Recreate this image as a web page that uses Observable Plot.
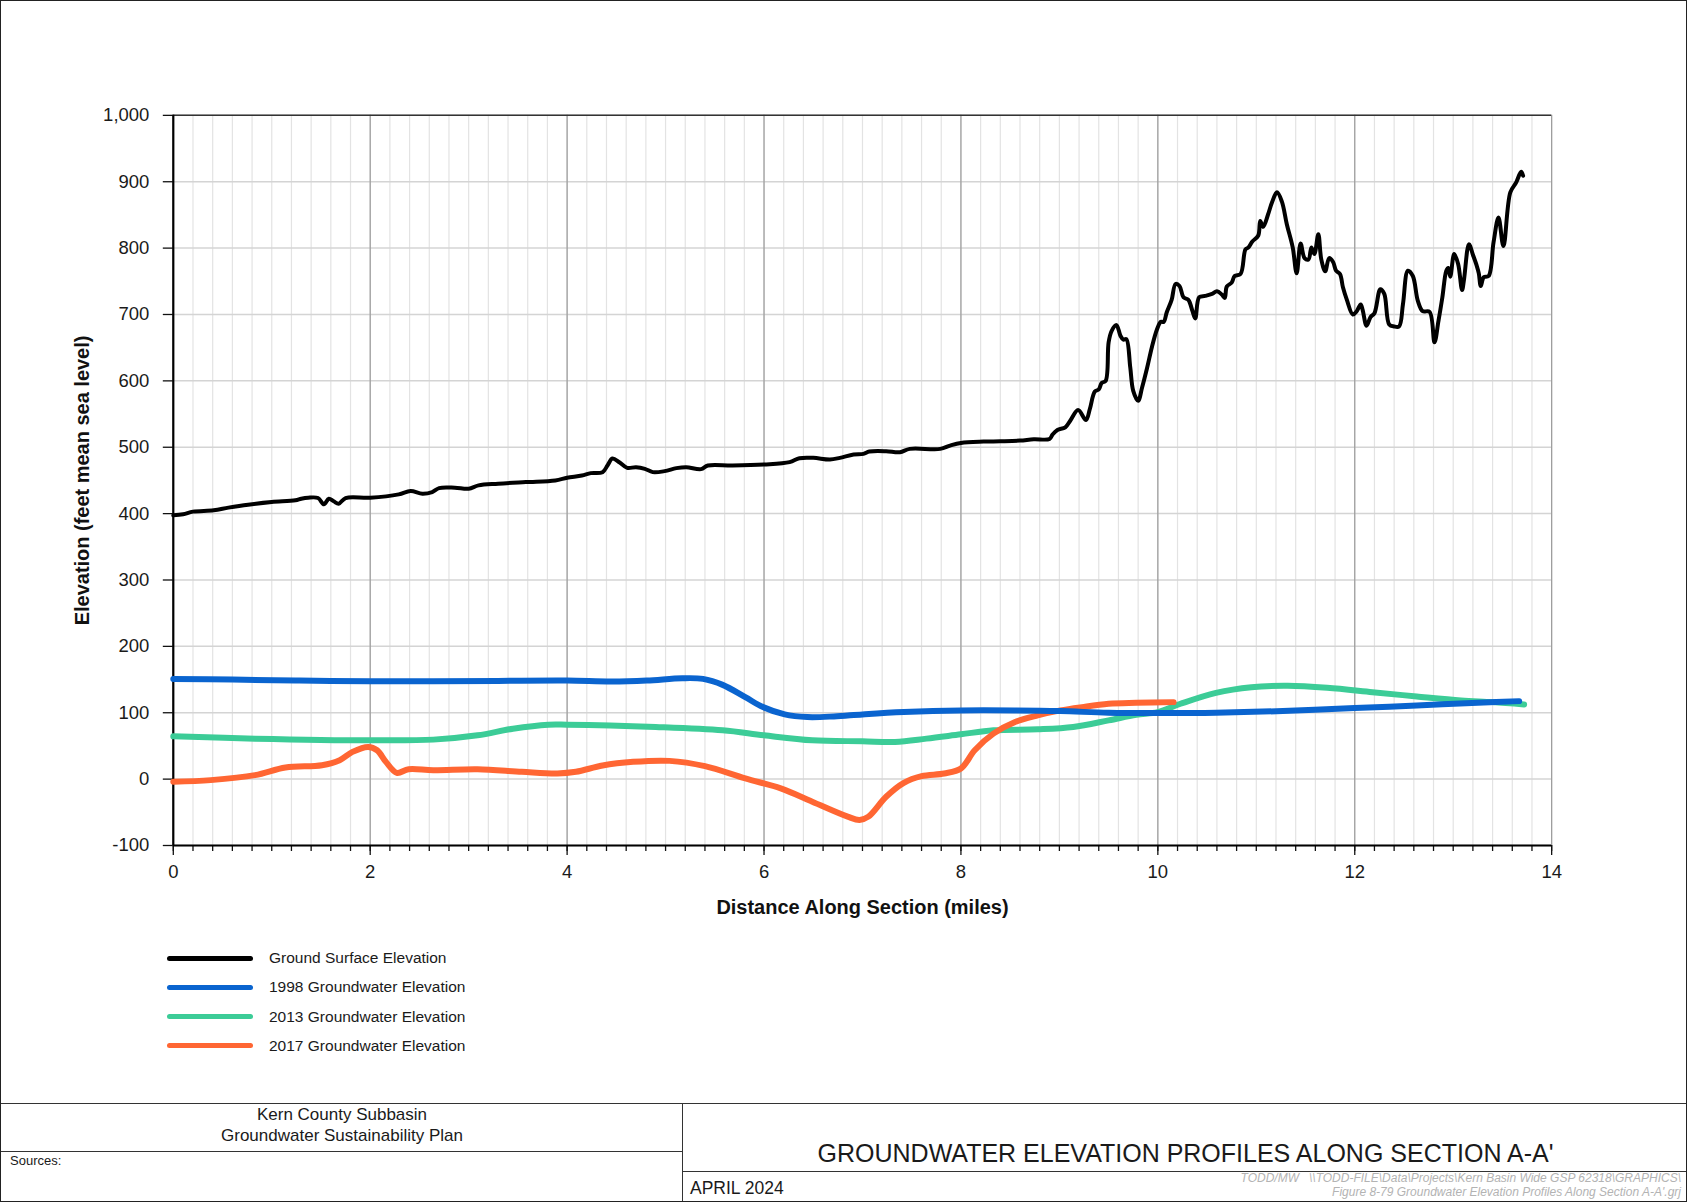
<!DOCTYPE html>
<html>
<head>
<meta charset="utf-8">
<script src="https://cdn.jsdelivr.net/npm/d3@7"></script>
<script src="https://cdn.jsdelivr.net/npm/@observablehq/plot@0.6"></script>
<style>
  html, body { margin: 0; padding: 0; background: #fff; }
  #page { position: relative; width: 1687px; height: 1202px; box-sizing: border-box; border: 1.5px solid #222; overflow: hidden; font-family: "Liberation Sans", Arial, sans-serif; color: #1a1a1a; }
  #chart { position: absolute; left: 0; top: 0; }
  .leg-swatch { position: absolute; left: 166px; width: 86px; height: 5px; border-radius: 3px; }
  .leg-text { position: absolute; left: 268px; font-size: 15.5px; white-space: nowrap; line-height: 18px; }
  .hline { position: absolute; height: 0; border-top: 1.5px solid #333; }
  .vline { position: absolute; width: 0; border-left: 1.5px solid #333; }
  .t { position: absolute; white-space: nowrap; }
</style>
</head>
<body>
<div id="page">
  <div id="chart"></div>
  <div id="legend"></div>
  <div class="hline" style="left:0; width:1687px; top:1102px;"></div>
  <div class="vline" style="left:681px; top:1102px; height:100px;"></div>
  <div class="hline" style="left:0; width:682px; top:1150px;"></div>
  <div class="hline" style="left:682px; width:1005px; top:1170px;"></div>
  <div class="t" style="left:0; width:682px; text-align:center; top:1104px; font-size:17px;">Kern County Subbasin</div>
  <div class="t" style="left:0; width:682px; text-align:center; top:1125px; font-size:17px;">Groundwater Sustainability Plan</div>
  <div class="t" style="left:9px; top:1152px; font-size:13px;">Sources:</div>
  <div class="t" style="left:682px; width:1005px; text-align:center; top:1138px; font-size:25px;">GROUNDWATER ELEVATION PROFILES ALONG SECTION A-A'</div>
  <div class="t" style="left:689px; top:1177px; font-size:17.5px;">APRIL 2024</div>
  <div class="t" style="right:5px; top:1171px; font-size:12px; font-style:italic; color:#b3b3b3; text-align:right; line-height:13.5px;">TODD/MW &nbsp; \\TODD-FILE\Data\Projects\Kern Basin Wide GSP 62318\GRAPHICS\<br>Figure 8-79 Groundwater Elevation Profiles Along Section A-A'.grj</div>
</div>
<script>
// ---------- DATA ----------
const groundX = [0,0.1,0.2,0.41,0.56,0.76,1.0,1.24,1.3,1.37,1.47,1.53,1.58,1.63,1.68,1.75,2.0,2.29,2.41,2.53,2.63,2.7,2.86,3.0,3.1,3.3,3.58,3.88,4.0,4.15,4.24,4.36,4.41,4.46,4.53,4.61,4.70,4.79,4.87,4.99,5.11,5.21,5.36,5.43,5.68,6.0,6.26,6.36,6.50,6.67,6.77,6.91,7.01,7.07,7.24,7.38,7.48,7.79,7.89,8.0,8.23,8.40,8.60,8.74,8.90,8.93,8.98,9.06,9.11,9.19,9.27,9.31,9.36,9.40,9.43,9.47,9.50,9.53,9.58,9.62,9.65,9.68,9.72,9.75,9.80,9.84,9.89,9.94,9.99,10.03,10.06,10.09,10.14,10.18,10.22,10.26,10.31,10.35,10.38,10.42,10.48,10.55,10.60,10.65,10.68,10.70,10.75,10.78,10.84,10.89,10.92,10.96,11.02,11.04,11.07,11.12,11.16,11.21,11.26,11.31,11.37,11.41,11.45,11.49,11.53,11.56,11.59,11.63,11.66,11.70,11.74,11.78,11.81,11.85,11.88,11.92,11.98,12.02,12.06,12.08,12.12,12.16,12.20,12.26,12.30,12.35,12.40,12.45,12.49,12.54,12.59,12.64,12.69,12.76,12.81,12.85,12.89,12.93,12.95,12.97,13.01,13.05,13.09,13.11,13.16,13.20,13.24,13.26,13.28,13.31,13.36,13.41,13.46,13.51,13.58,13.64,13.69,13.71];
const groundY = [397.5,399,403,405,409,413.5,417.5,420,422.5,424,423.5,414,422.5,418.5,415,423.5,424,429,434,430,432.5,438.5,439,437.5,442.5,445,447.5,450,454,457.5,461,462.5,472.5,483,477.5,469,470,467.5,462.5,464,468.5,470,467,472.5,472.5,474,477.5,483.5,484,481.5,484,489,490,493.5,494,492.5,497.5,497.5,502.5,506.5,508.5,509,510,512,512.5,519,526,530,540,556,541,558,584,587,597,600,658,675,684,668,662,663,620,585,570,590,619,651,677,689,689,703,722,746,743,726,722,706,694,726,728,731,735,730,725,742,748,758,761,798,801,810,819,841,832,851,869,884,870,836,801,762,807,785,783,801,791,821,783,765,785,779,766,761,741,722,700,705,715,707,683,696,702,738,731,685,682,682,716,766,758,721,705,704,658,690,726,766,770,757,791,776,737,753,806,790,773,762,743,756,758,809,846,803,884,899,915,909];

const gw1998X = [0,0.6,1.28,2.0,2.64,3.3,4.0,4.45,4.81,5.17,5.38,5.58,5.81,5.99,6.21,6.44,6.71,7.0,7.42,8.0,8.55,9.01,9.5,10.0,10.59,11.27,12.0,12.63,13.31,13.67];
const gw1998Y = [151,150,148.5,147.5,147.5,148,148.5,147,148.5,152,151,142,123.5,108.5,97.5,93.5,94.5,97.5,101,103.5,103.5,102.5,100,99.5,100,102.5,107,111,115.5,117.5];

const gw2013X = [0,0.83,2.0,2.64,3.09,3.45,3.81,4.0,4.9,5.58,6.0,6.49,7.0,7.33,7.65,8.0,8.33,8.78,9.14,9.5,9.78,10.0,10.23,10.59,10.95,11.32,11.72,12.18,12.63,13.08,13.40,13.72];
const gw2013Y = [64.5,61,58.5,59.5,66,76,82,82,78.5,73.5,66,58.5,57,56,61,67.5,73.5,75,78.5,88.5,97,101,113.5,130,138.5,140.5,137.5,131,124.5,118.5,116,112.5];

const gw2017X = [0,0.38,0.83,1.14,1.51,1.69,1.82,1.98,2.07,2.16,2.27,2.39,2.64,3.09,3.54,3.9,4.09,4.36,4.67,5.04,5.4,5.81,6.17,6.49,6.85,6.97,7.06,7.24,7.42,7.60,7.83,8.0,8.14,8.33,8.55,8.78,9.01,9.23,9.5,9.78,10.16];
const gw2017Y = [-4,-1.5,6,17.5,21,28.5,41,48.5,43.5,26,9.5,15,13.5,15,11,8.5,11,20.5,26,27.5,19.5,1,-14,-34,-56.5,-61.5,-56.5,-26.5,-5.5,4.5,8.5,16,43.5,68.5,86,96,103.5,108.5,113.5,115,116];

const seriesNames = ["Ground Surface Elevation","1998 Groundwater Elevation","2013 Groundwater Elevation","2017 Groundwater Elevation"];
const seriesColors = ["#000000","#0a64cf","#3ccc97","#ff6633"];
const xMajorTicks = [0,2,4,6,8,10,12,14];
const yTicks = [-100,0,100,200,300,400,500,600,700,800,900,1000];
const xTitle = "Distance Along Section (miles)";
const yTitle = "Elevation (feet mean sea level)";

// ---------- BUILD ----------
const toRows = (xs, ys) => xs.map((x, i) => ({x, y: ys[i]}));
const ground = toRows(groundX, groundY);
const g1998 = toRows(gw1998X, gw1998Y);
const g2013 = toRows(gw2013X, gw2013Y);
const g2017 = toRows(gw2017X, gw2017Y);
const xMinorTicks = d3.range(0, 71).map(i => +(i * 0.2).toFixed(1));
const fmtY = d => d3.format(",")(d).replace("\u2212", "-");

const chart = Plot.plot({
  width: 1687,
  height: 935,
  marginLeft: 172,
  marginRight: 135,
  marginTop: 114,
  marginBottom: 90,
  x: {domain: [0, 14]},
  y: {domain: [-100, 1000]},
  style: {fontFamily: "'Liberation Sans', Arial, sans-serif", color: "#1a1a1a", background: "transparent", overflow: "visible"},
  marks: [
    Plot.gridX(xMinorTicks, {stroke: "#e3e3e3", strokeOpacity: 1, strokeWidth: 1.2}),
    Plot.gridY(yTicks, {stroke: "#d4d4d4", strokeOpacity: 1, strokeWidth: 1.5}),
    Plot.gridX(xMajorTicks, {stroke: "#9a9a9a", strokeOpacity: 1, strokeWidth: 1.2}),
    Plot.ruleY([1000], {stroke: "#333", strokeWidth: 1.5}),
    Plot.axisX(xMinorTicks, {tickSize: 6, tickFormat: () => "", label: null, strokeWidth: 1.3, stroke: "#111"}),
    Plot.axisX(xMajorTicks, {tickSize: 10, tickPadding: 9, fontSize: 18.5, label: null, strokeWidth: 1.3, stroke: "#111", fill: "#1a1a1a"}),
    Plot.axisY(yTicks, {tickSize: 10, tickPadding: 14, fontSize: 18.5, tickFormat: fmtY, label: null, strokeWidth: 1.3, stroke: "#111", fill: "#1a1a1a"}),
    Plot.ruleX([0], {stroke: "#000", strokeWidth: 2.2}),
    Plot.ruleY([-100], {stroke: "#000", strokeWidth: 2.2}),
    Plot.line(ground, {x: "x", y: "y", stroke: seriesColors[0], strokeWidth: 4, strokeLinejoin: "round", curve: "catmull-rom"}),
    Plot.line(g2013, {x: "x", y: "y", stroke: seriesColors[2], strokeWidth: 6, curve: "catmull-rom"}),
    Plot.line(g2017, {x: "x", y: "y", stroke: seriesColors[3], strokeWidth: 6, curve: "catmull-rom"}),
    Plot.line(g1998, {x: "x", y: "y", stroke: seriesColors[1], strokeWidth: 6, curve: "catmull-rom"}),
    Plot.text([xTitle], {frameAnchor: "bottom", dy: 69, fontSize: 20, fontWeight: "bold", fill: "#111"}),
    Plot.text([yTitle], {frameAnchor: "left", textAnchor: "middle", dx: -91, rotate: -90, fontSize: 20, fontWeight: "bold", fill: "#111"})
  ]
});
document.getElementById("chart").appendChild(chart);

// ---------- LEGEND ----------
const legendY = [957, 986, 1015.5, 1044.5];
const legend = document.getElementById("legend");
seriesNames.forEach((name, i) => {
  const sw = document.createElement("div");
  sw.className = "leg-swatch";
  sw.style.top = (legendY[i] - 2.5) + "px";
  sw.style.background = seriesColors[i];
  legend.appendChild(sw);
  const tx = document.createElement("div");
  tx.className = "leg-text";
  tx.style.top = (legendY[i] - 9) + "px";
  tx.textContent = name;
  legend.appendChild(tx);
});
</script>
</body>
</html>
